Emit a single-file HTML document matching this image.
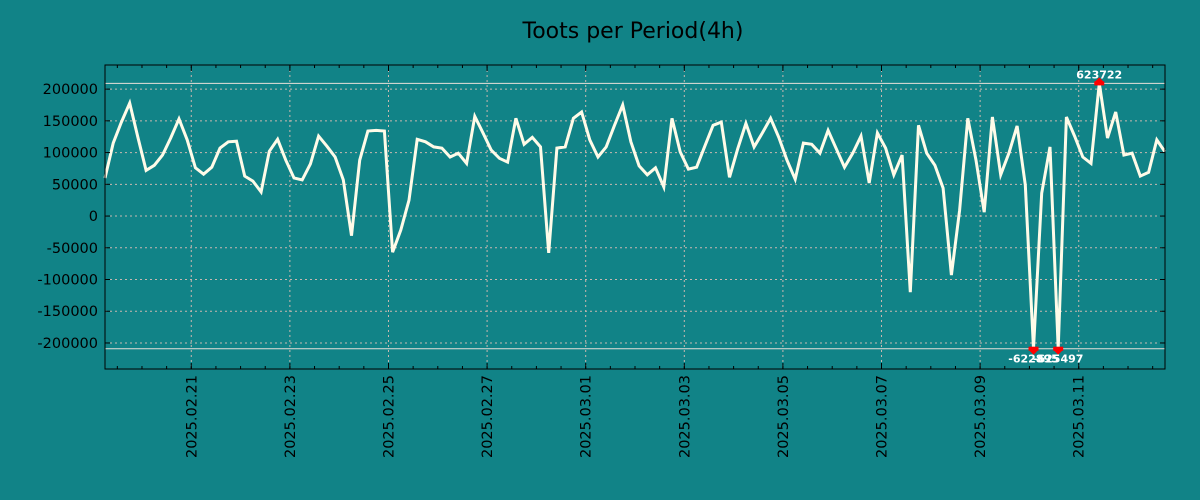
<!DOCTYPE html>
<html><head><meta charset="utf-8"><style>
html,body{margin:0;padding:0;background:#118387;}
svg{display:block;font-family:"DejaVu Sans","Liberation Sans",sans-serif;}
</style></head><body>
<svg id="chart" width="1200" height="500" viewBox="0 0 1200 500" xmlns="http://www.w3.org/2000/svg">
<rect width="1200" height="500" fill="#118387"/>
<text x="633" y="38" text-anchor="middle" font-size="22" fill="#000">Toots per Period(4h)</text>
<g id="grid"></g><g id="series"></g><g id="axes"></g>
</svg>
<script>
const values = [60000,115000,148000,178000,124000,72000,80000,96000,123000,153000,120000,76000,66000,77000,107000,117000,118000,63000,55000,38000,102000,121000,88000,60000,57000,82000,126000,110000,93000,57000,-31000,88000,134000,135000,134000,-57000,-22000,25000,121000,117000,109000,107000,93000,99000,
83000,157000,131000,104000,91000,85000,154000,113000,124000,109000,-58000,107000,109000,154000,164000,120000,93000,109000,143000,175000,117000,79000,65000,76000,46000,154000,101000,74000,77000,110000,143000,148000,61000,106000,146000,109000,131000,154000,124000,88000,58000,115000,113000,
99000,135000,106000,77000,99000,126000,52000,131000,107000,65000,96000,-120000,143000,99000,80000,44000,-93000,9000,154000,88000,6000,156000,65000,99000,142000,49000,-622895,36000,109000,-625497,156000,126000,93000,83000,623722,123000,164000,96000,99000,63000,69000,120000,101000];
const yTicks = [200000,150000,100000,50000,0,-50000,-100000,-150000,-200000];
const xTickLabels = ["2025.02.21","2025.02.23","2025.02.25","2025.02.27","2025.03.01","2025.03.03","2025.03.05","2025.03.07","2025.03.09","2025.03.11"];
const xTickDays = [0,2,4,6,8,10,12,14,16,18];
const clipLimit = 209000;

const NS="http://www.w3.org/2000/svg";
const L=105,R=1165,T=65,B=369;
const yMin=-241000,yMax=238000;
const dStart=-1.75, dEnd=dStart+(values.length-1)/6;
const ys=v=>B-(v-yMin)/(yMax-yMin)*(B-T);
const xs=d=>L+(d-dStart)/(dEnd-dStart)*(R-L);
const xi=i=>xs(dStart+i/6);
function mk(tag,attrs,parent){const e=document.createElementNS(NS,tag);for(const k in attrs)e.setAttribute(k,attrs[k]);parent.appendChild(e);return e;}
const grid=document.getElementById('grid'),series=document.getElementById('series'),axes=document.getElementById('axes');
mk('rect',{x:L,y:T,width:R-L,height:B-T,fill:'#118387'},grid);
yTicks.forEach(v=>{const y=ys(v);
 const g=mk('line',{x1:L,x2:R,y1:y,y2:y,stroke:'#c8b8b0','stroke-width':1,'stroke-dasharray':'2,3'},grid);
 
 
 mk('line',{x1:L,x2:L+5,y1:y,y2:y,stroke:'#000'},axes);
 mk('line',{x1:R-5,x2:R,y1:y,y2:y,stroke:'#000'},axes);
 const t=mk('text',{x:98,y:y+5,'text-anchor':'end','font-size':14.5,fill:'#000'},axes);
 t.textContent=String(v);
 
 
});
for(let d=Math.ceil(dStart*2)/2; d<=dEnd; d+=0.5){const x=xs(d);
 mk('line',{x1:x,x2:x,y1:T,y2:T+3,stroke:'#000'},axes);
 mk('line',{x1:x,x2:x,y1:B-3,y2:B,stroke:'#000'},axes);}
xTickDays.forEach((d,k)=>{const x=xs(d);
 const g=mk('line',{x1:x,x2:x,y1:T,y2:B,stroke:'#c8b8b0','stroke-width':1,'stroke-dasharray':'2,3'},grid);
 
 
 mk('line',{x1:x,x2:x,y1:T,y2:T+6,stroke:'#000'},axes);
 mk('line',{x1:x,x2:x,y1:B-6,y2:B,stroke:'#000'},axes);
 const t=mk('text',{x:0,y:0,'text-anchor':'end','font-size':14.5,fill:'#000',transform:`translate(${x+5},375) rotate(-90)`},axes);
 t.textContent=xTickLabels[k];
 
 
});
[clipLimit,-clipLimit].forEach(v=>{const l=mk('line',{x1:L,x2:R,y1:ys(v),y2:ys(v),stroke:'#e8e0d8','stroke-width':1},grid);
 
 });
const pts=values.map((v,i)=>xi(i).toFixed(1)+','+ys(Math.max(-clipLimit,Math.min(clipLimit,v))).toFixed(1)).join(' ');
const pl=mk('polyline',{points:pts,fill:'none',stroke:'#fffbe8','stroke-width':3,'stroke-linejoin':'miter'},series);


values.forEach((v,i)=>{if(Math.abs(v)<=clipLimit)return;const x=xi(i),up=v>0,y=ys(up?clipLimit:-clipLimit);
 const m=mk('g',{},series);
 
 
 mk('rect',{x:x-5,y:y-2,width:10,height:4,fill:'#f00'},m);
 mk('polygon',{points:up?`${x-5},${y-1} ${x+5},${y-1} ${x},${y-6}`:`${x-5},${y+1} ${x+5},${y+1} ${x},${y+6}`,fill:'#f00'},m);
 const t=mk('text',{x:x,y:up?y-5:y+14,'text-anchor':'middle','font-size':11,'font-weight':'bold',fill:'#fff'},m);
 t.textContent=String(v);
 
 
});
const fr=mk('rect',{x:L,y:T,width:R-L,height:B-T,fill:'none',stroke:'#000','stroke-width':1},axes);


</script>
</body></html>
